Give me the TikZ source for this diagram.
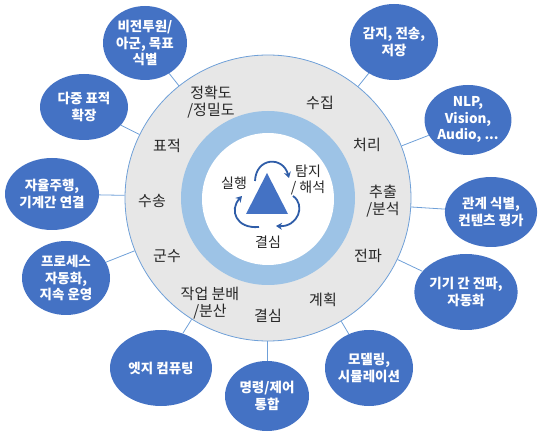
\documentclass[tikz,border=0pt]{standalone}
\usepackage{fontspec}
\setmainfont{Noto Sans CJK KR}
\usetikzlibrary{shapes.geometric,arrows.meta}
\definecolor{satblue}{HTML}{4472C4}
\definecolor{ringblue}{HTML}{9DC3E6}
\definecolor{ringgray}{HTML}{E7E7E7}
\definecolor{edgeblue}{HTML}{6FA0D8}
\definecolor{arrowblue}{HTML}{2F5DA8}
\definecolor{labelgray}{HTML}{262626}
\tikzset{
  sat/.style={ellipse, fill=satblue, draw=none, inner sep=0pt, text=white,
    font=\fontsize{13.5}{16.5}\selectfont\bfseries, align=center},
  lbl/.style={text=labelgray, font=\fontsize{15}{16.5}\selectfont, align=center, inner sep=0pt},
  clbl/.style={lbl, font=\fontsize{14}{15.5}\selectfont},
  conn/.style={draw=edgeblue, line width=0.8pt},
  cyc/.style={draw=arrowblue, line width=1.8pt, -{Stealth[length=6pt,width=7pt]}}
}
\begin{document}
\begin{tikzpicture}[x=1pt,y=-1pt]
\useasboundingbox (0,0) rectangle (539,433);
% main circles
\node[circle, fill=ringgray, draw=edgeblue, line width=0.8pt, minimum size=286pt, inner sep=0pt] (big) at (268,198) {};
\node[circle, fill=ringblue, minimum size=174pt, inner sep=0pt] (ring) at (268,198) {};
\node[circle, fill=white, minimum size=132pt, inner sep=0pt] (core) at (268,199) {};
% triangle
\coordinate (ta) at (267,173);
\coordinate (tb) at (246,214);
\coordinate (tc) at (288,214);
\fill[satblue] (ta) -- (tb) -- (tc) -- cycle;
% cycle arrows
\coordinate (a1s) at (255,181);
\coordinate (a1e) at (289,178);
\coordinate (a2s) at (293,196);
\coordinate (a2e) at (276,226);
\coordinate (a3s) at (259,227);
\coordinate (a3e) at (242,196);
\draw[cyc] (a1s) .. controls (256,157) and (283,156) .. (a1e);
\draw[cyc] (a2s) .. controls (306,205) and (298,227) .. (a2e);
\draw[cyc] (a3s) .. controls (236,229) and (229,210) .. (a3e);
% center labels
\node[clbl] (c1) at (234,183) {실행};
\node[clbl] (c2) at (308,180) {탐지\\/ 해석};
\node[clbl] (c3) at (268,242) {결심};
% ring labels
\node[lbl] (l1) at (211,102) {정확도\\/정밀도};
\node[lbl] (l2) at (320,103) {수집};
\node[lbl] (l3) at (367,145) {처리};
\node[lbl] (l4) at (383,201) {추출\\/분석};
\node[lbl] (l5) at (368,256) {전파};
\node[lbl] (l6) at (323,300) {계획};
\node[lbl] (l7) at (268,316) {결심};
\node[lbl] (l8) at (210,303) {작업 분배\\/분산};
\node[lbl] (l9) at (167,256) {군수};
\node[lbl] (l10) at (152,201) {수송};
\node[lbl] (l11) at (167,146) {표적};
% satellites
\node[sat, minimum width=84pt, minimum height=74pt] (s1) at (145,43) {비전투원/\\아군, 목표\\식별};
\node[sat, minimum width=88pt, minimum height=66pt] (s2) at (84,107) {다중 표적\\확장};
\node[sat, minimum width=94pt, minimum height=72pt] (s3) at (52,194) {자율주행,\\기계간 연결};
\node[sat, minimum width=88pt, minimum height=74pt] (s4) at (66,278) {프로세스\\자동화,\\지속 운영};
\node[sat, minimum width=102pt, minimum height=76pt] (s5) at (161,368) {엣지 컴퓨팅};
\node[sat, minimum width=84pt, minimum height=70pt] (s6) at (267,396) {명령/제어\\통합};
\node[sat, minimum width=88pt, minimum height=76pt] (s7) at (369,368) {모델링,\\시뮬레이션};
\node[sat, minimum width=102pt, minimum height=76pt] (s8) at (466,292) {기기 간 전파,\\자동화};
\node[sat, minimum width=86pt, minimum height=70pt] (s9) at (491,212) {관계 식별,\\컨텐츠 평가};
\node[sat, minimum width=84pt, minimum height=70pt] (s10) at (468,120) {NLP,\\Vision,\\Audio, ...};
\node[sat, minimum width=86pt, minimum height=76pt] (s11) at (394,42) {감지, 전송,\\저장};
% connectors
\foreach \s in {s1,s2,s3,s4,s5,s7,s8,s9,s10,s11}
  \draw[conn] (\s) -- (big);
\draw[conn] (s6.north) -- (s6.north |- big.south);
\end{tikzpicture}
\end{document}
